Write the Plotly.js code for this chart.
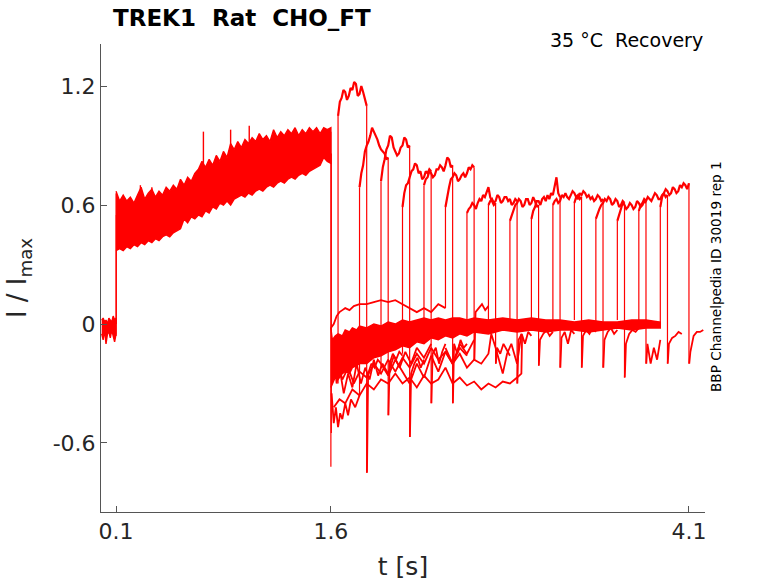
<!DOCTYPE html>
<html>
<head>
<meta charset="utf-8">
<script src="https://cdn.plot.ly/plotly-3.0.1.min.js"></script>
<style>html,body{margin:0;padding:0;background:#fff}</style>
</head>
<body>
<div id="chart" style="width:778px;height:583px"></div>
<script>
// holding current before the first pulse (band edges)
const baseT  = [0, 0.01, 0.02, 0.03, 0.04, 0.05, 0.06, 0.07, 0.08, 0.09, 0.1];
const baseHi = [0.02, 0.03, 0.01, 0.02, 0.00, 0.03, 0.02, 0.01, 0.04, 0.02, 0.03];
const baseLo = [-0.05, -0.08, -0.03, -0.10, -0.05, -0.04, -0.07, -0.03, -0.06, -0.09, -0.05];

// first pulse, all sweeps overlaid (band edges)
const p1T = [0.100, 0.125, 0.150, 0.175, 0.200, 0.225, 0.250, 0.275, 0.300, 0.325,
             0.350, 0.375, 0.400, 0.425, 0.450, 0.475, 0.500, 0.525, 0.550, 0.575,
             0.600, 0.625, 0.650, 0.675, 0.700, 0.725, 0.750, 0.775, 0.800, 0.825,
             0.850, 0.875, 0.900, 0.925, 0.950, 0.975, 1.000, 1.025, 1.050, 1.075,
             1.100, 1.125, 1.150, 1.175, 1.200, 1.225, 1.250, 1.275, 1.300, 1.325,
             1.350, 1.375, 1.400, 1.425, 1.450, 1.475, 1.500, 1.525, 1.550, 1.575, 1.600];
const p1Hi = [0.67, 0.62, 0.65, 0.62, 0.64, 0.61, 0.65, 0.69, 0.63, 0.66,
              0.68, 0.64, 0.67, 0.65, 0.69, 0.67, 0.70, 0.68, 0.73, 0.70,
              0.74, 0.72, 0.76, 0.78, 0.82, 0.79, 0.83, 0.80, 0.85, 0.82,
              0.87, 0.84, 0.91, 0.88, 0.92, 0.89, 0.93, 0.91, 0.94, 0.92,
              0.96, 0.93, 0.95, 0.92, 0.98, 0.94, 0.97, 0.95, 0.98, 0.96,
              0.99, 0.95, 0.98, 0.96, 0.99, 0.97, 0.99, 0.96, 0.99, 0.98, 0.99];
const p1Lo = [0.37, 0.38, 0.37, 0.39, 0.38, 0.40, 0.39, 0.41, 0.40, 0.42,
              0.41, 0.43, 0.42, 0.44, 0.45, 0.44, 0.46, 0.47, 0.48, 0.53,
              0.51, 0.54, 0.53, 0.55, 0.54, 0.57, 0.56, 0.59, 0.58, 0.61,
              0.60, 0.62, 0.60, 0.63, 0.64, 0.65, 0.64, 0.66, 0.65, 0.67,
              0.68, 0.67, 0.69, 0.70, 0.69, 0.71, 0.72, 0.71, 0.73, 0.74,
              0.73, 0.75, 0.76, 0.75, 0.77, 0.78, 0.79, 0.80, 0.84, 0.82, 0.81];

// thin spikes above the first-pulse band
const spikeT   = [0.27, 0.35, 0.71, 0.90, 1.03];
const spikeTop = [0.70, 0.69, 0.97, 0.98, 1.00];
const spikeBot = [0.64, 0.65, 0.80, 0.88, 0.91];

// vertical steps at pulse 1 on / off
const edgeT   = [0.1, 0.102, 1.6, 1.603];
const edgeTop = [0.66, 0.55, 0.97, 0.86];
const edgeBot = [-0.06, 0.00, -0.72, -0.55];

// second pulse per sweep
const tOn  = [1.65, 1.80, 1.95, 2.10, 2.25, 2.40, 2.55, 2.70, 2.85, 3.00, 3.15, 3.30, 3.45, 3.60, 3.75, 3.90];
const tOff = [1.85, 2.00, 2.15, 2.30, 2.45, 2.60, 2.75, 2.90, 3.05, 3.20, 3.35, 3.50, 3.65, 3.80, 3.95, 4.10];
const onFrom   = [-0.30, -0.36, -0.22, -0.15, -0.10, 0.08, -0.05, -0.02, 0.00, 0.01, 0.01, 0.02, 0.01, 0.02, 0.01, 0.01];
const offSpike = [-0.75, -0.46, -0.57, -0.40, -0.40, -0.18, -0.20, -0.30, -0.21, -0.22, -0.22, -0.22, -0.27, -0.20, -0.20, -0.20];
const p2Vals = [
  [1.05, 1.12, 1.14, 1.18, 1.17, 1.13, 1.15, 1.19, 1.18, 1.22, 1.21, 1.15, 1.16, 1.20, 1.17, 1.13, 1.10],
  [0.69, 0.76, 0.80, 0.87, 0.90, 0.92, 0.95, 0.99, 0.97, 0.95, 0.93, 0.90, 0.88, 0.87, 0.86, 0.83, 0.84],
  [0.72, 0.79, 0.83, 0.88, 0.90, 0.95, 0.94, 0.89, 0.87, 0.85, 0.86, 0.89, 0.90, 0.94, 0.93, 0.89, 0.90],
  [0.59, 0.66, 0.70, 0.71, 0.74, 0.77, 0.78, 0.81, 0.80, 0.76, 0.77, 0.73, 0.74, 0.77, 0.76, 0.78, 0.77],
  [0.70, 0.73, 0.74, 0.77, 0.76, 0.74, 0.75, 0.78, 0.78, 0.80, 0.79, 0.77, 0.80, 0.84, 0.83, 0.79, 0.80],
  [0.59, 0.65, 0.69, 0.73, 0.74, 0.76, 0.75, 0.72, 0.73, 0.75, 0.76, 0.74, 0.76, 0.79, 0.78, 0.80, 0.79],
  [0.56, 0.58, 0.59, 0.61, 0.60, 0.58, 0.61, 0.63, 0.62, 0.65, 0.64, 0.67, 0.69, 0.64, 0.62, 0.60, 0.61],
  [0.60, 0.62, 0.63, 0.61, 0.62, 0.65, 0.64, 0.61, 0.62, 0.64, 0.64, 0.62, 0.63, 0.60, 0.61, 0.63, 0.62],
  [0.52, 0.55, 0.57, 0.60, 0.61, 0.63, 0.62, 0.59, 0.60, 0.63, 0.63, 0.60, 0.61, 0.64, 0.62, 0.59, 0.60],
  [0.53, 0.57, 0.59, 0.62, 0.62, 0.60, 0.63, 0.64, 0.62, 0.65, 0.63, 0.66, 0.65, 0.70, 0.74, 0.66, 0.64],
  [0.60, 0.62, 0.63, 0.61, 0.62, 0.65, 0.64, 0.66, 0.64, 0.63, 0.65, 0.67, 0.66, 0.64, 0.65, 0.63, 0.64],
  [0.61, 0.64, 0.63, 0.66, 0.65, 0.67, 0.66, 0.64, 0.65, 0.63, 0.64, 0.62, 0.63, 0.65, 0.64, 0.62, 0.63],
  [0.53, 0.56, 0.58, 0.60, 0.61, 0.63, 0.62, 0.64, 0.63, 0.60, 0.61, 0.63, 0.62, 0.59, 0.60, 0.62, 0.61],
  [0.52, 0.55, 0.58, 0.61, 0.60, 0.58, 0.59, 0.61, 0.60, 0.58, 0.59, 0.62, 0.61, 0.59, 0.60, 0.62, 0.61],
  [0.57, 0.60, 0.61, 0.63, 0.62, 0.64, 0.63, 0.62, 0.64, 0.66, 0.65, 0.63, 0.63, 0.65, 0.66, 0.64, 0.65],
  [0.59, 0.64, 0.66, 0.68, 0.67, 0.65, 0.66, 0.69, 0.68, 0.66, 0.67, 0.70, 0.69, 0.71, 0.70, 0.68, 0.71]
];
const postVals = [
  [-0.25, -0.20, -0.22, -0.18, -0.20],
  [-0.20, -0.15, -0.18, -0.14, -0.16],
  [-0.25, -0.20, -0.17, -0.22, -0.18],
  [-0.15, -0.12, -0.20, -0.14, -0.10],
  [-0.10, -0.15, -0.08, -0.12, -0.10],
  [0.06, 0.08, 0.10, 0.07, 0.09],
  [-0.12, -0.15, -0.10, -0.13, -0.16],
  [-0.08, -0.05, -0.10, -0.04, -0.06],
  [-0.08, -0.05, -0.03, -0.06, -0.04],
  [-0.07, -0.04, -0.10, -0.03, -0.05],
  [-0.06, -0.03, -0.05, -0.02, -0.04],
  [-0.08, -0.04, -0.02, -0.05, -0.03],
  [-0.10, -0.05, -0.03, -0.04, -0.02],
  [-0.10, -0.20, -0.12, -0.18, -0.08],
  [-0.10, -0.07, -0.06, -0.04, -0.05],
  [-0.14, -0.06, -0.04, -0.04, -0.03]
];

// dense cluster of holding currents between pulses (band edges)
const lowT  = [1.60, 1.61, 1.63, 1.65, 1.68, 1.70, 1.73, 1.75, 1.78, 1.80, 1.85, 1.90, 1.95, 2.00, 2.05, 2.10, 2.15, 2.20, 2.25, 2.30, 2.35, 2.40, 2.45, 2.50, 2.55, 2.60, 2.70, 2.80, 2.90, 3.00, 3.10, 3.20, 3.30, 3.40, 3.50, 3.60, 3.70, 3.80, 3.90];
const lowHi = [-0.02, -0.08, -0.06, -0.05, -0.06, -0.03, -0.04, -0.02, -0.03, -0.01, -0.02, 0.00, -0.01, 0.01, 0.00, 0.02, 0.01, 0.02, 0.03, 0.02, 0.03, 0.02, 0.03, 0.03, 0.02, 0.03, 0.02, 0.03, 0.02, 0.03, 0.02, 0.02, 0.01, 0.02, 0.01, 0.01, 0.02, 0.02, 0.01];
const lowLo = [-0.32, -0.30, -0.27, -0.28, -0.25, -0.24, -0.25, -0.22, -0.21, -0.20, -0.20, -0.17, -0.16, -0.14, -0.13, -0.11, -0.12, -0.09, -0.10, -0.07, -0.08, -0.06, -0.07, -0.05, -0.06, -0.04, -0.05, -0.03, -0.04, -0.03, -0.04, -0.03, -0.03, -0.04, -0.03, -0.02, -0.03, -0.02, -0.02];

// single holding traces that stand apart from the cluster
const deepT = [1.605, 1.62, 1.635, 1.65, 1.665, 1.68, 1.70, 1.72, 1.74, 1.77, 1.80];
const deepY = [-0.35, -0.50, -0.42, -0.52, -0.45, -0.48, -0.40, -0.46, -0.38, -0.42, -0.36];
const longT = [1.62, 1.66, 1.70, 1.75, 1.80, 1.85, 1.90, 1.95, 2.00, 2.05, 2.10, 2.15, 2.20, 2.25, 2.30, 2.35, 2.40, 2.45, 2.50, 2.55, 2.60, 2.65, 2.70, 2.75, 2.80, 2.85, 2.90, 2.93, 2.935];
const longY = [-0.42, -0.38, -0.40, -0.33, -0.36, -0.30, -0.33, -0.28, -0.30, -0.25, -0.30, -0.27, -0.32, -0.26, -0.30, -0.28, -0.22, -0.30, -0.27, -0.31, -0.29, -0.33, -0.30, -0.32, -0.29, -0.30, -0.27, -0.25, -0.06];
const plusT = [1.60, 1.62, 1.64, 1.66, 1.68, 1.70, 1.73, 1.76, 1.80, 1.85, 1.90, 1.95, 2.00, 2.05, 2.10, 2.15, 2.20, 2.25, 2.30, 2.35, 2.40];
const plusY = [-0.02, 0.00, 0.04, 0.06, 0.07, 0.08, 0.07, 0.09, 0.10, 0.10, 0.11, 0.12, 0.11, 0.12, 0.10, 0.08, 0.06, 0.08, 0.06, 0.10, 0.08];
const midT = [1.62, 1.65, 1.68, 1.72, 1.76, 1.80, 1.85, 1.90, 1.95, 2.00, 2.05, 2.10, 2.15, 2.20, 2.25, 2.30, 2.35, 2.40, 2.45, 2.50, 2.55, 2.60];
const midY = [-0.25, -0.20, -0.28, -0.22, -0.30, -0.24, -0.27, -0.20, -0.25, -0.18, -0.24, -0.17, -0.22, -0.15, -0.20, -0.12, -0.18, -0.14, -0.20, -0.10, -0.15, -0.08];
const mid2T = [1.62, 1.64, 1.66, 1.69, 1.72, 1.75, 1.78, 1.81, 1.84, 1.87, 1.90, 1.93, 1.96, 2.00, 2.04, 2.08, 2.12, 2.16, 2.20, 2.25, 2.30];
const mid2Y = [-0.15, -0.30, -0.22, -0.35, -0.25, -0.32, -0.20, -0.30, -0.22, -0.28, -0.18, -0.26, -0.20, -0.25, -0.16, -0.22, -0.14, -0.20, -0.12, -0.17, -0.10];
const mid3T = [1.95, 2.00, 2.05, 2.10, 2.15, 2.20, 2.25, 2.30, 2.35, 2.40, 2.45, 2.50, 2.55];
const mid3Y = [-0.20, -0.26, -0.18, -0.24, -0.30, -0.20, -0.27, -0.16, -0.24, -0.14, -0.20, -0.12, -0.16];
const loopT = [2.40, 2.45, 2.50, 2.55, 2.60, 2.65, 2.70, 2.72, 2.75, 2.78, 2.80, 2.83, 2.86, 2.90, 2.93];
const loopY = [-0.12, -0.20, -0.15, -0.22, -0.18, -0.20, -0.15, -0.05, -0.12, -0.20, -0.25, -0.15, -0.10, -0.20, -0.05];

const xTicks = [0.1, 1.6, 4.1];
const yTicks = [-0.6, 0, 0.6, 1.2];

const RED = 'rgb(255,0,0)';
const traces = [];

function band(x, hi, lo) {
  return {
    x: x.concat(x.slice().reverse()),
    y: hi.concat(lo.slice().reverse()),
    type: 'scatter', mode: 'lines', fill: 'toself',
    fillcolor: RED, line: { color: RED, width: 1.4 }
  };
}
function line(x, y, w) {
  return { x: x, y: y, type: 'scatter', mode: 'lines', line: { color: RED, width: w } };
}
function verticals(ts, tops, bots, w) {
  const x = [], y = [];
  ts.forEach((t, i) => { x.push(t, t, null); y.push(tops[i], bots[i], null); });
  return line(x, y, w);
}

traces.push(band(baseT, baseHi, baseLo));
traces.push(band(p1T, p1Hi, p1Lo));
traces.push(band(lowT, lowHi, lowLo));
traces.push(verticals(spikeT, spikeTop, spikeBot, 1.4));
traces.push(verticals(edgeT, edgeTop, edgeBot, 1.2));

traces.push(line(deepT, deepY, 1.8));
traces.push(line(longT, longY, 1.8));
traces.push(line(plusT, plusY, 1.8));
traces.push(line(midT, midY, 1.8));
traces.push(line(mid2T, mid2Y, 1.8));
traces.push(line(mid3T, mid3Y, 1.8));
traces.push(line(loopT, loopY, 1.8));

// second pulses: level, vertical steps, and the short tail after each
const vx = [], vy = [];
tOn.forEach((t0, k) => {
  const t1 = tOff[k];
  const vals = p2Vals[k];
  const step = (t1 - t0) / (vals.length - 1);
  traces.push(line(vals.map((v, i) => t0 + i * step), vals, 2.2));
  vx.push(t0, t0, null, t1, t1, null);
  vy.push(onFrom[k], vals[0], null, vals[vals.length - 1], offSpike[k], null);
  const px = [t1 + 0.002], py = [offSpike[k]];
  postVals[k].forEach((v, i) => { px.push(t1 + 0.01 + i * 0.0225); py.push(v); });
  traces.push(line(px, py, 1.8));
});
traces.push(line(vx, vy, 1.2));

const axisFont = { family: 'DejaVu Sans', size: 22, color: '#262626' };

const layout = {
  width: 778, height: 583,
  margin: { l: 101, r: 73, t: 44, b: 71 },
  paper_bgcolor: '#fff', plot_bgcolor: '#fff',
  showlegend: false, hovermode: false,
  font: { family: 'DejaVu Sans', color: '#262626' },
  title: {
    text: '<b>TREK1\u00a0\u00a0Rat\u00a0\u00a0CHO_FT</b>',
    font: { family: 'DejaVu Sans', size: 23, color: '#000' },
    xref: 'container', x: 113 / 778, xanchor: 'left',
    yref: 'container', y: 1 - 18 / 583, yanchor: 'middle'
  },
  xaxis: {
    range: [-0.005, 4.212],
    tickvals: xTicks, ticktext: xTicks.map(String),
    ticks: 'inside', ticklen: 6, tickcolor: '#555',
    showline: true, linecolor: '#555', linewidth: 1,
    showgrid: false, zeroline: false, tickfont: axisFont,
    title: { text: 't [s]', font: { family: 'DejaVu Sans', size: 25, color: '#262626' }, standoff: 14 }
  },
  yaxis: {
    range: [-0.948, 1.412],
    tickvals: yTicks, ticktext: yTicks.map(String),
    ticks: 'inside', ticklen: 6, tickcolor: '#555',
    showline: true, linecolor: '#555', linewidth: 1,
    showgrid: false, zeroline: false, tickfont: axisFont,
    title: { text: 'I / I<sub>max</sub>', font: { family: 'DejaVu Sans', size: 26, color: '#262626' }, standoff: 18 }
  },
  annotations: [
    {
      text: '35 °C\u00a0\u00a0Recovery', showarrow: false,
      xref: 'paper', x: 1, xanchor: 'right',
      yref: 'paper', y: (512 - 40) / 468, yanchor: 'middle',
      font: { family: 'DejaVu Sans', size: 19, color: '#000' }
    },
    {
      text: 'BBP Channelpedia ID 30019 rep 1', showarrow: false, textangle: -90,
      xref: 'paper', x: (716 - 101) / 604, xanchor: 'center',
      yref: 'paper', y: (512 - 277) / 468, yanchor: 'middle',
      font: { family: 'DejaVu Sans', size: 13.6, color: '#000' }
    }
  ]
};

Plotly.newPlot('chart', traces, layout, { staticPlot: true, displayModeBar: false });
</script>
</body>
</html>
